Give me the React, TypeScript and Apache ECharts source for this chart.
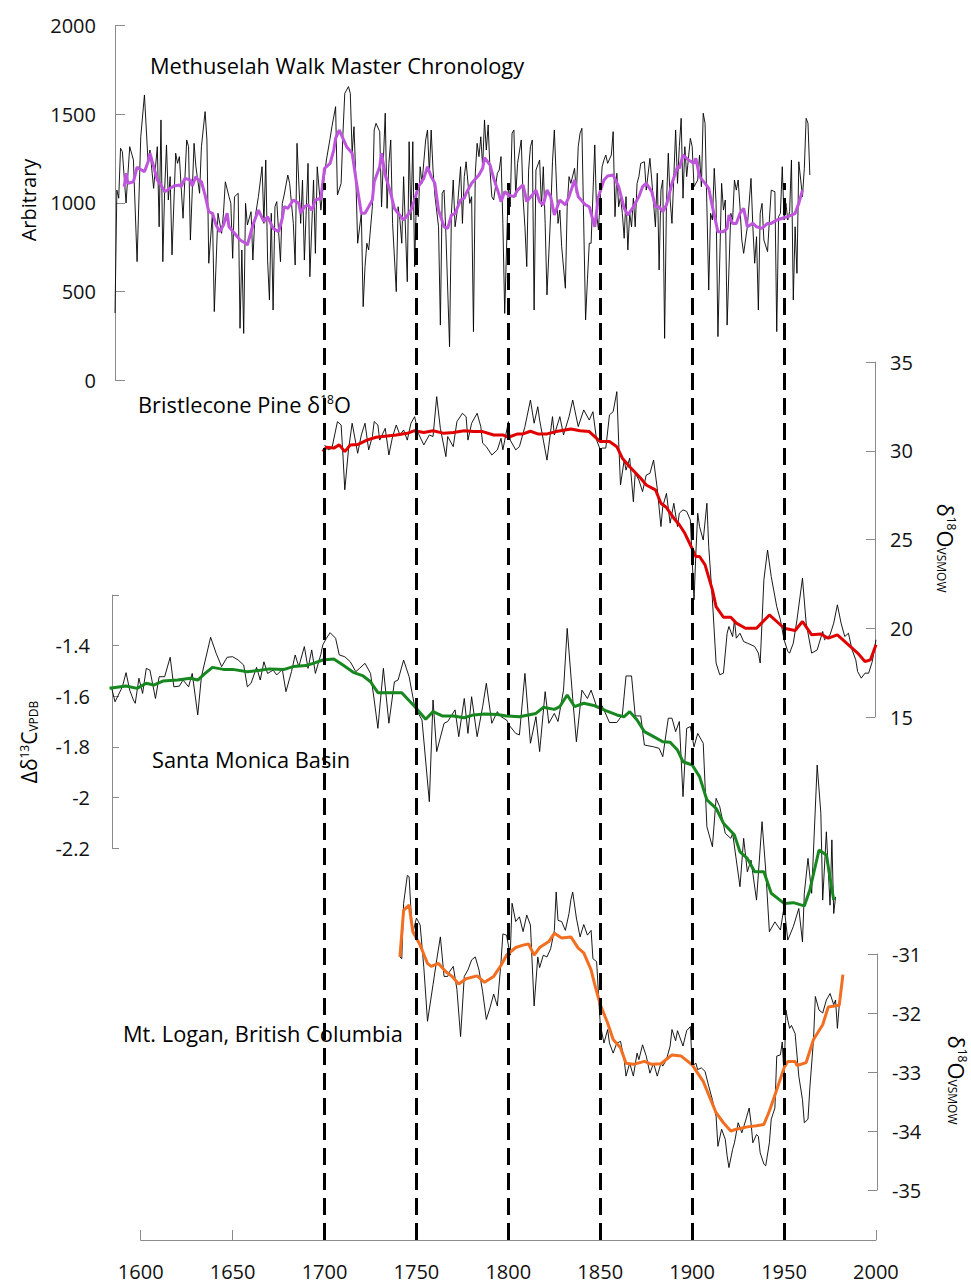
import { useEffect, useRef } from 'react';
import * as echarts from 'echarts';

type P = [number, number];

// Methuselah Walk master chronology (annual ring-width index, arbitrary units)
const mwRaw: P[] = [
  [1586,378],[1587,1072],[1588,1026],[1589,1308],[1590,1289],[1592,999],[1594,1317],[1596,1242],[1598,668],[1600,1373],
  [1602,1609],[1604,1225],[1605,1298],[1607,1082],[1609,1317],[1610,865],[1611,1468],[1612,668],[1613,1072],[1614,1327],
  [1615,1016],[1616,1148],[1617,706],[1619,1280],[1620,1223],[1621,1261],[1623,913],[1625,1355],[1626,1317],[1627,790],
  [1629,1336],[1630,1204],[1632,1054],[1633,1317],[1635,1515],[1636,1355],[1637,659],[1639,941],[1640,386],[1642,941],
  [1644,828],[1645,941],[1646,1119],[1648,1035],[1649,997],[1650,687],[1651,1035],[1653,1054],[1654,292],[1655,734],
  [1656,263],[1657,997],[1658,875],[1660,950],[1661,677],[1662,903],[1664,1035],[1666,1204],[1667,884],[1668,1242],
  [1669,677],[1670,452],[1671,941],[1672,395],[1673,978],[1674,1007],[1676,668],[1677,997],[1678,1044],[1680,1157],
  [1681,1110],[1683,884],[1684,649],[1685,1336],[1687,884],[1688,1129],[1689,677],[1691,1223],[1692,583],[1694,1129],
  [1695,715],[1696,1204],[1698,959],[1699,1072],[1701,1242],[1703,1364],[1704,1430],[1706,1543],[1707,1044],[1709,1110],
  [1710,1393],[1711,1618],[1713,1656],[1714,1618],[1715,1280],[1716,1430],[1717,1148],[1718,772],[1720,941],[1721,414],
  [1722,640],[1723,772],[1724,734],[1726,978],[1727,1411],[1728,1449],[1730,1402],[1731,978],[1733,1506],[1734,969],
  [1735,1223],[1736,1355],[1737,884],[1739,499],[1740,978],[1741,903],[1742,772],[1743,1148],[1745,555],[1746,1345],
  [1747,903],[1748,1345],[1749,640],[1750,1035],[1751,922],[1752,1204],[1753,1110],[1755,1355],[1756,1411],[1757,1167],
  [1758,1411],[1759,1185],[1760,1044],[1762,865],[1763,310],[1764,1054],[1765,1072],[1766,828],[1768,188],[1769,941],
  [1770,1129],[1771,865],[1772,941],[1774,1204],[1775,884],[1776,1148],[1777,1232],[1779,997],[1780,1035],[1781,273],
  [1782,1167],[1783,1336],[1784,1261],[1785,1373],[1786,1204],[1787,1468],[1788,1298],[1789,1440],[1790,1185],[1791,1035],
  [1792,1016],[1794,1167],[1795,1185],[1796,1261],[1797,884],[1798,376],[1800,1110],[1801,978],[1802,1393],[1803,1411],
  [1804,1035],[1805,1223],[1807,1355],[1808,1026],[1809,865],[1810,640],[1811,1185],[1812,1317],[1813,1355],[1814,395],
  [1815,1185],[1817,1242],[1818,978],[1819,1204],[1820,884],[1821,480],[1823,941],[1824,1232],[1825,1411],[1827,884],
  [1828,959],[1829,752],[1831,518],[1832,978],[1833,1148],[1834,1110],[1836,1195],[1837,1054],[1838,1317],[1839,1393],
  [1840,1421],[1842,339],[1843,565],[1844,772],[1845,772],[1847,1327],[1848,941],[1849,847],[1851,1204],[1852,1242],
  [1853,1270],[1854,1223],[1856,1270],[1857,1402],[1858,922],[1859,1167],[1860,978],[1861,1035],[1862,941],[1863,800],
  [1864,1035],[1865,734],[1866,941],[1867,865],[1868,1026],[1869,865],[1870,1110],[1871,1148],[1872,1223],[1874,1232],
  [1875,1072],[1877,1251],[1878,1129],[1880,865],[1881,1167],[1882,621],[1883,1072],[1884,1129],[1885,235],[1886,997],
  [1887,1280],[1888,1016],[1889,884],[1891,1411],[1892,1110],[1893,1317],[1894,1477],[1895,1026],[1896,1317],[1897,1148],
  [1899,1364],[1900,1317],[1901,1091],[1903,1129],[1904,1270],[1905,1091],[1906,1506],[1907,1449],[1909,508],[1910,941],
  [1911,903],[1912,1195],[1913,997],[1914,245],[1916,1110],[1917,959],[1918,1016],[1919,310],[1921,941],[1922,903],
  [1923,1129],[1924,1072],[1925,1129],[1926,978],[1927,790],[1928,715],[1930,865],[1932,1138],[1933,865],[1934,659],
  [1935,809],[1936,395],[1937,941],[1938,997],[1939,790],[1941,725],[1942,903],[1943,1072],[1945,1063],[1946,273],
  [1947,922],[1948,941],[1949,1204],[1950,903],[1951,997],[1952,903],[1953,950],[1954,1242],[1955,452],[1956,865],
  [1957,602],[1958,1232],[1960,1035],[1961,1195],[1962,1477],[1963,1449],[1964,1157]
];

const mwSmooth: P[] = [
  [1591,1091],[1592,1167],[1593,1110],[1596,1119],[1598,1201],[1602,1176],[1604,1232],[1605,1280],[1608,1167],[1609,1129],
  [1611,1101],[1613,1063],[1616,1082],[1618,1095],[1621,1101],[1622,1091],[1624,1138],[1627,1129],[1628,1095],[1630,1148],
  [1631,1133],[1633,1119],[1635,1044],[1637,950],[1639,941],[1641,875],[1643,837],[1645,875],[1647,941],[1648,865],
  [1651,828],[1654,790],[1657,772],[1658,762],[1661,875],[1664,959],[1667,894],[1669,922],[1672,856],[1675,837],
  [1677,913],[1678,978],[1680,969],[1683,1016],[1686,997],[1687,941],[1689,978],[1691,988],[1693,959],[1695,1016],
  [1698,1026],[1700,1195],[1703,1223],[1705,1298],[1706,1364],[1708,1411],[1710,1364],[1712,1317],[1715,1280],[1717,1138],
  [1720,941],[1722,941],[1724,978],[1726,1016],[1727,1119],[1730,1204],[1731,1280],[1733,1157],[1736,1054],[1738,969],
  [1740,941],[1743,903],[1746,941],[1747,959],[1749,1016],[1751,1091],[1754,1138],[1756,1204],[1758,1148],[1760,1110],
  [1762,959],[1765,865],[1767,856],[1769,931],[1771,941],[1774,1016],[1776,1026],[1777,1054],[1780,1110],[1784,1157],
  [1786,1195],[1787,1255],[1790,1214],[1792,1138],[1795,1044],[1796,1007],[1798,1063],[1800,1044],[1803,1035],[1805,1072],
  [1808,1101],[1810,1007],[1813,1044],[1815,1072],[1817,1007],[1819,988],[1821,1072],[1823,1035],[1825,931],[1828,1016],
  [1831,988],[1833,1035],[1836,1129],[1838,1035],[1842,988],[1844,978],[1847,865],[1849,1035],[1852,1129],[1854,1152],
  [1857,1157],[1860,1091],[1863,969],[1865,931],[1868,978],[1871,1035],[1873,1091],[1875,1110],[1878,1063],[1880,978],
  [1882,978],[1884,950],[1886,988],[1889,1110],[1892,1204],[1893,1195],[1895,1270],[1898,1242],[1901,1223],[1902,1251],
  [1904,1148],[1907,1110],[1909,1082],[1911,978],[1913,884],[1914,837],[1917,837],[1919,856],[1920,931],[1922,884],
  [1924,884],[1926,941],[1928,969],[1930,865],[1933,884],[1935,865],[1938,856],[1941,884],[1943,884],[1946,903],
  [1949,913],[1952,922],[1954,931],[1956,941],[1958,997],[1960,1072]
];

// Bristlecone pine delta 18O (per mil VSMOW)
const bpRaw: P[] = [
  [1700,30.33],[1702,30.05],[1704,30.15],[1707,31.64],[1709,31.45],[1710,29.76],[1711,27.8],[1713,30.05],[1715,31.55],[1717,30.43],
  [1718,29.86],[1720,30.89],[1722,31.55],[1724,30.05],[1726,30.8],[1727,31.64],[1729,31.45],[1730,30.6],[1733,31.26],[1735,29.76],
  [1737,30.8],[1739,31.45],[1741,30.89],[1743,31.17],[1745,30.6],[1747,31.55],[1749,31.92],[1751,30.98],[1754,30.33],[1757,30.89],
  [1759,30.8],[1761,33.05],[1763,31.26],[1766,29.67],[1767,30.8],[1770,30.23],[1772,31.64],[1775,32.11],[1777,31.92],[1778,30.6],
  [1780,31.55],[1783,32.11],[1785,31.36],[1786,30.43],[1788,30.23],[1791,29.76],[1794,30.05],[1796,30.7],[1797,30.05],[1800,31.64],
  [1801,30.6],[1804,30.05],[1806,30.23],[1809,31.36],[1812,32.86],[1814,31.55],[1816,32.48],[1817,31.73],[1819,30.6],[1821,29.47],
  [1824,31.92],[1825,30.89],[1828,31.92],[1830,30.89],[1833,31.92],[1835,32.86],[1838,31.36],[1841,32.3],[1844,31.73],[1846,32.2],
  [1848,30.6],[1850,30.05],[1851,30.15],[1853,30.15],[1855,32.02],[1857,32.2],[1859,33.33],[1860,30.52],[1861,28.07],[1863,29.48],
  [1864,28.91],[1866,29.58],[1868,27.13],[1869,28.73],[1871,28.35],[1873,27.7],[1875,28.63],[1877,28.73],[1879,29.48],[1881,27.86],
  [1883,25.73],[1884,26.86],[1886,27.6],[1888,25.92],[1890,27.04],[1892,25.73],[1893,26.48],[1895,26.67],[1897,26.58],[1899,26.1],
  [1900,23.85],[1901,21.6],[1902,24.22],[1903,26.48],[1904,25.73],[1906,24.97],[1908,27.04],[1909,24.6],[1911,21.6],[1913,18.04],
  [1915,17.38],[1917,17.47],[1919,19.72],[1920,20.1],[1922,19.53],[1923,20.47],[1924,19.44],[1926,19.72],[1928,19.25],[1930,19.16],
  [1932,19.07],[1934,18.97],[1936,18.6],[1937,18.04],[1939,22.73],[1941,24.41],[1943,22.91],[1946,21.22],[1948,20.47],[1950,19.35],
  [1952,18.69],[1953,18.6],[1955,19.16],[1957,20.47],[1960,22.82],[1962,20.29],[1965,18.6],[1968,18.78],[1971,19.82],[1972,19.35],
  [1975,19.63],[1977,20.29],[1979,21.32],[1981,20.29],[1983,19.53],[1985,19.72],[1987,18.78],[1989,18.22],[1990,17.56],[1992,17.19],
  [1994,17.47],[1996,17.47],[1998,18.13],[2000,19.35]
];

const bpSmooth: P[] = [
  [1699,29.95],[1701,30.2],[1705,30.15],[1708,30.33],[1711,29.95],[1714,30.33],[1718,30.35],[1723,30.6],[1728,30.76],[1734,30.83],
  [1739,30.89],[1745,30.98],[1749,31.13],[1754,31.03],[1759,31.13],[1765,30.98],[1770,31.03],[1776,31.13],[1781,31.08],[1786,31.08],
  [1792,30.89],[1797,30.89],[1800,30.76],[1805,30.95],[1808,30.95],[1812,31.1],[1816,30.95],[1821,30.95],[1826,31.08],[1834,31.23],
  [1839,31.13],[1844,31.08],[1848,30.7],[1850,30.52],[1855,30.52],[1859,30.23],[1862,29.58],[1866,29.1],[1872,28.45],[1875,28.07],
  [1880,27.8],[1883,27.04],[1886,26.8],[1890,26.2],[1893,25.83],[1896,25.35],[1899,24.7],[1902,24.04],[1904,24.04],[1907,23.57],
  [1911,22.16],[1913,21.22],[1917,20.62],[1921,20.62],[1924,20.29],[1929,20.0],[1935,20.0],[1942,20.75],[1946,20.38],[1950,20.0],
  [1956,19.87],[1960,20.38],[1965,19.63],[1970,19.68],[1974,19.44],[1979,19.63],[1984,19.16],[1990,18.6],[1994,18.13],[1997,18.22],
  [2000,19.07]
];

// Santa Monica Basin delta-delta 13C (per mil VPDB)
const smRaw: P[] = [
  [1584,-1.563],[1586,-1.622],[1590,-1.563],[1592,-1.507],[1594,-1.576],[1596,-1.615],[1597,-1.628],[1599,-1.529],[1601,-1.589],[1603,-1.49],
  [1605,-1.497],[1608,-1.609],[1610,-1.523],[1613,-1.523],[1616,-1.446],[1618,-1.563],[1621,-1.56],[1623,-1.536],[1626,-1.563],[1628,-1.51],
  [1631,-1.674],[1633,-1.523],[1638,-1.367],[1641,-1.43],[1644,-1.483],[1647,-1.446],[1650,-1.444],[1653,-1.457],[1656,-1.477],[1658,-1.563],
  [1660,-1.549],[1663,-1.486],[1665,-1.536],[1667,-1.464],[1669,-1.51],[1672,-1.497],[1674,-1.516],[1677,-1.494],[1679,-1.582],[1682,-1.503],
  [1684,-1.437],[1686,-1.483],[1689,-1.404],[1691,-1.49],[1693,-1.417],[1695,-1.51],[1698,-1.434],[1699,-1.398],[1701,-1.371],[1703,-1.349],
  [1706,-1.371],[1708,-1.437],[1711,-1.444],[1714,-1.464],[1717,-1.503],[1719,-1.49],[1722,-1.47],[1725,-1.51],[1727,-1.615],[1729,-1.727],
  [1732,-1.49],[1735,-1.707],[1738,-1.543],[1740,-1.536],[1743,-1.457],[1746,-1.523],[1749,-1.641],[1753,-1.694],[1757,-2.017],[1759,-1.615],
  [1761,-1.819],[1765,-1.707],[1767,-1.7],[1771,-1.654],[1773,-1.76],[1776,-1.609],[1778,-1.747],[1780,-1.602],[1783,-1.76],[1786,-1.641],
  [1788,-1.549],[1791,-1.707],[1794,-1.661],[1796,-1.681],[1799,-1.694],[1801,-1.72],[1804,-1.747],[1806,-1.753],[1809,-1.51],[1812,-1.786],
  [1815,-1.681],[1817,-1.819],[1820,-1.582],[1822,-1.707],[1825,-1.668],[1827,-1.7],[1830,-1.576],[1832,-1.332],[1835,-1.609],[1837,-1.78],
  [1840,-1.576],[1843,-1.609],[1845,-1.576],[1848,-1.641],[1851,-1.638],[1855,-1.704],[1859,-1.704],[1862,-1.674],[1864,-1.52],[1867,-1.52],
  [1869,-1.678],[1872,-1.678],[1874,-1.793],[1879,-1.8],[1882,-1.806],[1884,-1.839],[1887,-1.687],[1889,-1.687],[1891,-1.74],[1893,-1.7],
  [1895,-1.997],[1897,-1.727],[1899,-1.72],[1901,-1.8],[1903,-1.747],[1906,-1.786],[1908,-2.116],[1911,-2.195],[1913,-2.004],[1915,-2.037],
  [1918,-2.142],[1921,-2.162],[1922,-2.142],[1926,-2.353],[1928,-2.162],[1930,-2.294],[1932,-2.248],[1935,-2.406],[1938,-2.096],[1940,-2.287],
  [1942,-2.531],[1945,-2.492],[1948,-2.524],[1950,-2.432],[1952,-2.564],[1955,-2.511],[1958,-2.439],[1960,-2.571],[1961,-2.379],[1963,-2.241],
  [1965,-2.379],[1968,-1.872],[1970,-2.063],[1971,-2.406],[1973,-2.136],[1975,-2.426],[1976,-2.168],[1977,-2.459],[1978,-2.393]
];

const smSmooth: P[] = [
  [1583,-1.569],[1592,-1.56],[1598,-1.569],[1603,-1.549],[1607,-1.556],[1612,-1.54],[1620,-1.536],[1627,-1.529],[1631,-1.536],[1635,-1.51],
  [1639,-1.486],[1645,-1.494],[1650,-1.494],[1658,-1.503],[1665,-1.497],[1670,-1.492],[1678,-1.494],[1683,-1.483],[1690,-1.479],[1695,-1.467],
  [1699,-1.457],[1705,-1.453],[1710,-1.477],[1716,-1.507],[1721,-1.52],[1725,-1.543],[1729,-1.586],[1736,-1.586],[1742,-1.586],[1749,-1.641],
  [1755,-1.691],[1759,-1.661],[1764,-1.678],[1770,-1.678],[1776,-1.685],[1781,-1.674],[1787,-1.67],[1794,-1.672],[1799,-1.678],[1806,-1.681],
  [1815,-1.668],[1819,-1.644],[1825,-1.652],[1828,-1.641],[1832,-1.595],[1836,-1.641],[1841,-1.628],[1847,-1.638],[1853,-1.657],[1859,-1.674],
  [1863,-1.681],[1866,-1.661],[1870,-1.694],[1874,-1.74],[1879,-1.76],[1884,-1.78],[1888,-1.782],[1892,-1.813],[1895,-1.859],[1900,-1.872],
  [1904,-1.918],[1908,-2.01],[1913,-2.043],[1917,-2.102],[1923,-2.149],[1926,-2.215],[1930,-2.241],[1934,-2.294],[1939,-2.294],[1943,-2.379],
  [1950,-2.419],[1955,-2.416],[1961,-2.429],[1964,-2.366],[1969,-2.208],[1973,-2.228],[1977,-2.406]
];

// Mt. Logan ice core delta 18O (per mil VSMOW)
const mlRaw: P[] = [
  [1741,-31.05],[1742,-31.08],[1743,-30.14],[1745,-29.67],[1746,-29.69],[1747,-30.26],[1748,-30.64],[1750,-30.39],[1752,-30.51],[1754,-31.23],
  [1756,-32.14],[1759,-31.52],[1761,-31.1],[1763,-30.71],[1765,-31.38],[1767,-31.38],[1768,-31.3],[1770,-31.21],[1772,-31.6],[1774,-32.4],
  [1776,-31.38],[1778,-31.27],[1780,-31.1],[1782,-31.05],[1784,-31.27],[1786,-31.64],[1788,-32.11],[1790,-31.91],[1792,-31.68],[1794,-31.88],
  [1796,-31.13],[1797,-30.66],[1799,-30.68],[1801,-31.02],[1802,-30.14],[1804,-30.45],[1806,-30.37],[1808,-30.62],[1810,-30.34],[1812,-30.51],
  [1814,-31.88],[1816,-31.05],[1817,-31.23],[1819,-31.02],[1821,-31.05],[1823,-30.91],[1825,-30.6],[1826,-29.95],[1827,-30.43],[1829,-30.45],
  [1831,-30.6],[1833,-30.31],[1834,-30.08],[1835,-29.95],[1837,-30.39],[1839,-30.71],[1841,-30.5],[1843,-30.68],[1845,-30.6],[1846,-31.08],
  [1848,-31.13],[1850,-32.2],[1852,-32.51],[1854,-32.28],[1855,-32.51],[1857,-32.68],[1859,-32.51],[1861,-32.48],[1863,-32.79],[1864,-33.07],
  [1866,-32.85],[1868,-33.07],[1870,-32.68],[1871,-32.79],[1873,-32.54],[1875,-32.73],[1877,-33.02],[1879,-32.85],[1881,-33.07],[1883,-32.85],
  [1884,-32.9],[1886,-32.79],[1888,-32.56],[1889,-32.28],[1891,-32.47],[1892,-32.3],[1895,-32.56],[1897,-32.3],[1899,-32.23],[1900,-32.9],
  [1902,-32.85],[1903,-32.96],[1905,-32.93],[1907,-32.99],[1909,-33.24],[1911,-33.47],[1913,-33.75],[1914,-34.26],[1916,-33.97],[1918,-34.14],
  [1919,-34.42],[1920,-34.62],[1922,-34.31],[1923,-34.2],[1925,-33.86],[1927,-34.03],[1929,-33.83],[1931,-33.61],[1932,-33.86],[1933,-34.2],
  [1935,-34.06],[1936,-34.09],[1937,-34.37],[1939,-34.56],[1940,-34.59],[1942,-34.2],[1943,-33.8],[1945,-33.61],[1946,-32.73],[1948,-32.71],
  [1949,-32.49],[1950,-33.07],[1951,-31.95],[1952,-32.12],[1953,-32.26],[1954,-32.21],[1956,-32.35],[1958,-33.07],[1960,-33.47],[1961,-33.86],
  [1963,-33.8],[1964,-33.27],[1966,-32.45],[1967,-31.72],[1969,-31.95],[1971,-32.0],[1973,-31.78],[1975,-31.67],[1977,-31.86],[1978,-31.78],
  [1979,-32.26],[1980,-31.87]
];

const mlSmooth: P[] = [
  [1741,-31.05],[1743,-30.26],[1746,-30.17],[1748,-30.62],[1752,-30.85],[1756,-31.16],[1758,-31.21],[1762,-31.16],[1766,-31.3],[1769,-31.37],
  [1773,-31.51],[1777,-31.42],[1783,-31.37],[1787,-31.48],[1792,-31.38],[1796,-31.19],[1799,-31.02],[1804,-30.89],[1808,-30.85],[1811,-30.83],
  [1814,-31.02],[1817,-30.89],[1822,-30.79],[1825,-30.65],[1829,-30.73],[1834,-30.71],[1838,-30.9],[1841,-30.98],[1845,-31.27],[1847,-31.52],
  [1850,-31.86],[1854,-32.17],[1857,-32.45],[1861,-32.59],[1864,-32.85],[1868,-32.87],[1874,-32.82],[1878,-32.87],[1883,-32.86],[1889,-32.71],
  [1894,-32.73],[1900,-32.88],[1906,-33.16],[1913,-33.69],[1917,-33.86],[1921,-34.0],[1924,-33.97],[1930,-33.93],[1935,-33.91],[1939,-33.89],
  [1942,-33.66],[1946,-33.3],[1950,-32.93],[1952,-32.82],[1956,-32.82],[1957,-32.89],[1962,-32.84],[1966,-32.45],[1971,-32.2],[1974,-31.9],
  [1980,-31.87],[1982,-31.35]
];

const dashYears = [1700, 1750, 1800, 1850, 1900, 1950];

const FONT = "'Open Sans', sans-serif";
const AXIS_GRAY = '#8a8a8a';
const LABEL_SIZE = 20;
const TITLE_SIZE = 21.8;

const plain = (v: number) => String(v);

function buildOption() {
  const hiddenX = (gridIndex: number) => ({
    gridIndex, type: 'value', min: 1580, max: 2000, show: false,
  });
  const yAx = (gridIndex: number, pos: 'left' | 'right', min: number, max: number, interval: number,
               offset: number, tickLen: number, margin: number, formatter: (v: number) => string) => ({
    gridIndex, type: 'value', position: pos, min, max, interval, offset,
    axisLine: { show: true, lineStyle: { color: AXIS_GRAY, width: 1 } },
    axisTick: { show: true, inside: true, length: tickLen, lineStyle: { color: AXIS_GRAY, width: 1 } },
    axisLabel: { show: true, margin, color: '#111', fontSize: LABEL_SIZE, fontFamily: FONT, formatter },
    splitLine: { show: false },
  });
  const line = (idx: number, data: P[], color: string, width: number) => ({
    type: 'line', xAxisIndex: idx, yAxisIndex: idx, data, showSymbol: false, symbol: 'none',
    clip: false, silent: true, lineStyle: { color, width }, z: width > 2 ? 4 : 3,
  });

  const subsup = {
    sup: { fontSize: 12, fontFamily: FONT, verticalAlign: 'top', lineHeight: 12 },
    sub: { fontSize: 12, fontFamily: FONT, verticalAlign: 'bottom', lineHeight: 12 },
  };
  const rotLabel = (x: number, y: number, rotation: number, text: string, size: number, rich?: any) => ({
    type: 'text', x, y, rotation,
    style: {
      text, rich, fill: '#000', font: `${size}px ${FONT}`, fontSize: size, fontFamily: FONT,
      textAlign: 'center', textVerticalAlign: 'middle', align: 'center', verticalAlign: 'middle',
    },
  });
  const title = (x: number, y: number, text: string, rich?: any) => ({
    type: 'text', x, y,
    style: {
      text, rich, fill: '#000', fontSize: TITLE_SIZE, fontFamily: FONT, font: `${TITLE_SIZE}px ${FONT}`,
      textAlign: 'left', textVerticalAlign: 'middle', align: 'left', verticalAlign: 'middle',
    },
  });

  return {
    animation: false,
    backgroundColor: '#ffffff',
    grid: [
      { left: 104, width: 772, top: 25.7, height: 354.3 },
      { left: 104, width: 772, top: 362, height: 355 },
      { left: 104, width: 772, top: 595, height: 253 },
      { left: 104, width: 772, top: 954, height: 236 },
      { left: 140.7, width: 735.2, top: 183, height: 1057 },
    ],
    xAxis: [
      hiddenX(0), hiddenX(1), hiddenX(2), hiddenX(3),
      {
        gridIndex: 4, type: 'value', min: 1600, max: 2000, interval: 50, position: 'bottom',
        axisLine: { show: true, lineStyle: { color: AXIS_GRAY, width: 1 } },
        axisTick: { show: true, inside: true, length: 10, lineStyle: { color: AXIS_GRAY, width: 1 } },
        axisLabel: { show: true, margin: 21, color: '#111', fontSize: LABEL_SIZE, fontFamily: FONT, formatter: plain },
        splitLine: { show: false },
      },
    ],
    yAxis: [
      yAx(0, 'left', 0, 2000, 500, -11, 10, 19, plain),
      yAx(1, 'right', 15, 35, 5, -1, 9, 15, plain),
      yAx(2, 'left', -2.2, -1.2, 0.2, -8, 7, 22,
        (v: number) => (v > -1.3 ? '' : String(Math.round(v * 10) / 10))),
      yAx(3, 'right', -35, -31, 1, 1, 9, 15, plain),
      { gridIndex: 4, type: 'value', min: 0, max: 1, show: false },
    ],
    series: [
      {
        type: 'line', xAxisIndex: 4, yAxisIndex: 4, data: [], silent: true, z: 2,
        markLine: {
          silent: true, symbol: 'none', animation: false,
          label: { show: false },
          lineStyle: { color: '#000', width: 3, type: [17, 8] },
          data: dashYears.map((y) => ({ xAxis: y })),
        },
      },
      line(0, mwRaw, '#000000', 0.9),
      line(0, mwSmooth, '#BE55DC', 3),
      line(1, bpRaw, '#000000', 0.9),
      line(1, bpSmooth, '#E00000', 3),
      line(2, smRaw, '#000000', 0.9),
      line(2, smSmooth, '#17871F', 3),
      line(3, mlRaw, '#000000', 0.9),
      line(3, mlSmooth, '#F26E21', 3),
    ],
    graphic: [
      title(150, 65, 'Methuselah Walk Master Chronology'),
      title(138, 404, 'Bristlecone Pine δ{sup|18}O', subsup),
      title(152, 759, 'Santa Monica Basin'),
      title(123, 1033, 'Mt. Logan, British Columbia'),
      rotLabel(28, 200, Math.PI / 2, 'Arbitrary', 20),
      rotLabel(29, 742, Math.PI / 2, 'Δδ{sup|13}C{sub|VPDB}', 21, subsup),
      rotLabel(946, 548, -Math.PI / 2, 'δ{sup|18}O{sub|VSMOW}', 22, subsup),
      rotLabel(957, 1080, -Math.PI / 2, 'δ{sup|18}O{sub|VSMOW}', 22, subsup),
    ],
  };
}

export default function App() {
  const ref = useRef<HTMLDivElement>(null);
  useEffect(() => {
    if (!ref.current) return;
    const chart = echarts.init(ref.current, null, { renderer: 'svg' });
    chart.setOption(buildOption() as any);
    return () => chart.dispose();
  }, []);
  return (
    <div
      ref={ref}
      style={{ position: 'absolute', left: 0, top: 0, width: 971, height: 1283, background: '#fff' }}
    />
  );
}
